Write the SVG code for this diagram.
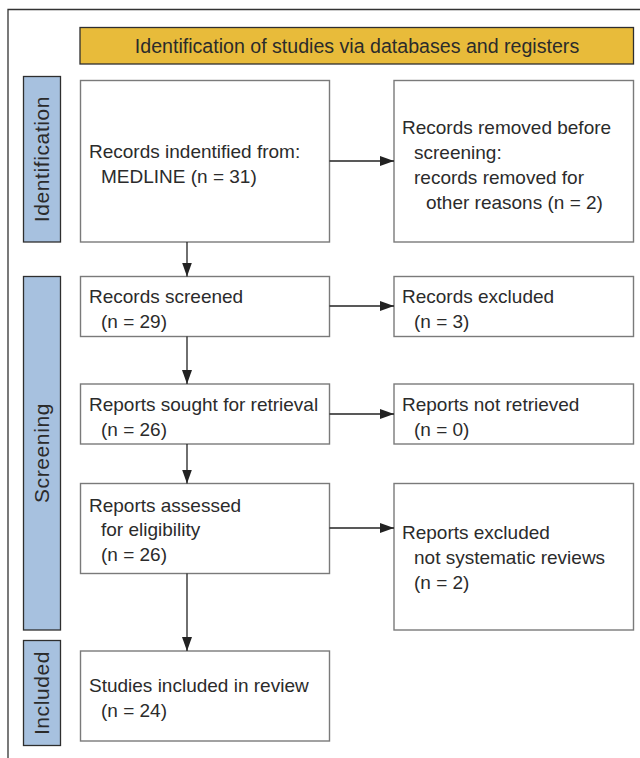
<svg xmlns="http://www.w3.org/2000/svg" width="640" height="758" viewBox="0 0 640 758">
<style>
.t{font-family:"Liberation Sans",Arial,sans-serif;font-size:19px;fill:#2b2b2b}
.h{font-family:"Liberation Sans",Arial,sans-serif;font-size:19.6px;fill:#2b2b2b;text-anchor:middle}
.box{fill:#fff;stroke:#7a7a7a;stroke-width:1.4}
.lab{fill:#a7c1df;stroke:#2e2e2e;stroke-width:1.3}
.vt{font-family:"Liberation Sans",Arial,sans-serif;font-size:21px;letter-spacing:0.6px;fill:#2b2b2b;text-anchor:middle}
.c{stroke:#222;stroke-width:1.3;fill:none}
</style>
<defs>
<marker id="ah" viewBox="0 0 14 10" refX="14" refY="5" markerWidth="14" markerHeight="10" markerUnits="userSpaceOnUse" orient="auto">
<path d="M0,0 L14,5 L0,10 z" fill="#222"/>
</marker>
</defs>
<rect width="640" height="758" fill="#fff"/>
<path d="M8,758 V9.5 H640" fill="none" stroke="#333" stroke-width="1.3"/>

<g id="header">
<rect x="80" y="27.5" width="553.5" height="36.5" fill="#e8bb3a" stroke="#2e2e2e" stroke-width="1.3"/>
<text class="h" x="357" y="53">Identification of studies via databases and registers</text>
</g>

<g id="label-identification">
<rect class="lab" x="23.5" y="76.5" width="37" height="165.5"/>
<text class="vt" transform="translate(49,159) rotate(-90)">Identification</text>
</g>
<g id="label-screening">
<rect class="lab" x="23.5" y="276.5" width="37" height="353.5"/>
<text class="vt" transform="translate(49,453) rotate(-90)">Screening</text>
</g>
<g id="label-included">
<rect class="lab" x="23.5" y="640.5" width="37" height="105"/>
<text class="vt" transform="translate(49,693) rotate(-90)">Included</text>
</g>

<g id="records-identified">
<rect class="box" x="80.5" y="80.5" width="249" height="161.5"/>
<text class="t" x="89" y="158">Records indentified from:</text>
<text class="t" x="101" y="183">MEDLINE (n = 31)</text>
</g>
<g id="records-removed">
<rect class="box" x="394" y="80.5" width="239.5" height="161.5"/>
<text class="t" x="402" y="134">Records removed before</text>
<text class="t" x="414" y="159">screening:</text>
<text class="t" x="414" y="184">records removed for</text>
<text class="t" x="426" y="209">other reasons (n = 2)</text>
</g>
<g id="records-screened">
<rect class="box" x="80.5" y="276.5" width="249" height="60"/>
<text class="t" x="89" y="303">Records screened</text>
<text class="t" x="101" y="328">(n = 29)</text>
</g>
<g id="records-excluded">
<rect class="box" x="394" y="276.5" width="239.5" height="60"/>
<text class="t" x="402" y="303">Records excluded</text>
<text class="t" x="414" y="328">(n = 3)</text>
</g>
<g id="reports-sought">
<rect class="box" x="80.5" y="384" width="249" height="60"/>
<text class="t" x="89" y="411">Reports sought for retrieval</text>
<text class="t" x="101" y="436">(n = 26)</text>
</g>
<g id="reports-not-retrieved">
<rect class="box" x="394" y="384" width="239.5" height="60"/>
<text class="t" x="402" y="411">Reports not retrieved</text>
<text class="t" x="414" y="436">(n = 0)</text>
</g>
<g id="reports-assessed">
<rect class="box" x="80.5" y="483.5" width="249" height="90"/>
<text class="t" x="89" y="512">Reports assessed</text>
<text class="t" x="101" y="536">for eligibility</text>
<text class="t" x="101" y="561">(n = 26)</text>
</g>
<g id="reports-excluded">
<rect class="box" x="394" y="483.5" width="239.5" height="146.5"/>
<text class="t" x="402" y="539">Reports excluded</text>
<text class="t" x="414" y="564">not systematic reviews</text>
<text class="t" x="414" y="589">(n = 2)</text>
</g>
<g id="studies-included">
<rect class="box" x="80.5" y="651" width="249" height="90"/>
<text class="t" x="89" y="692">Studies included in review</text>
<text class="t" x="101" y="717">(n = 24)</text>
</g>

<g id="connectors">
<line class="c" x1="329.5" y1="161" x2="394" y2="161" marker-end="url(#ah)"/>
<line class="c" x1="187" y1="242" x2="187" y2="276.5" marker-end="url(#ah)"/>
<line class="c" x1="329.5" y1="306" x2="394" y2="306" marker-end="url(#ah)"/>
<line class="c" x1="187" y1="336.5" x2="187" y2="384" marker-end="url(#ah)"/>
<line class="c" x1="329.5" y1="414" x2="394" y2="414" marker-end="url(#ah)"/>
<line class="c" x1="187" y1="444" x2="187" y2="483.5" marker-end="url(#ah)"/>
<line class="c" x1="329.5" y1="528" x2="394" y2="528" marker-end="url(#ah)"/>
<line class="c" x1="187" y1="573.5" x2="187" y2="651" marker-end="url(#ah)"/>
</g>
</svg>
